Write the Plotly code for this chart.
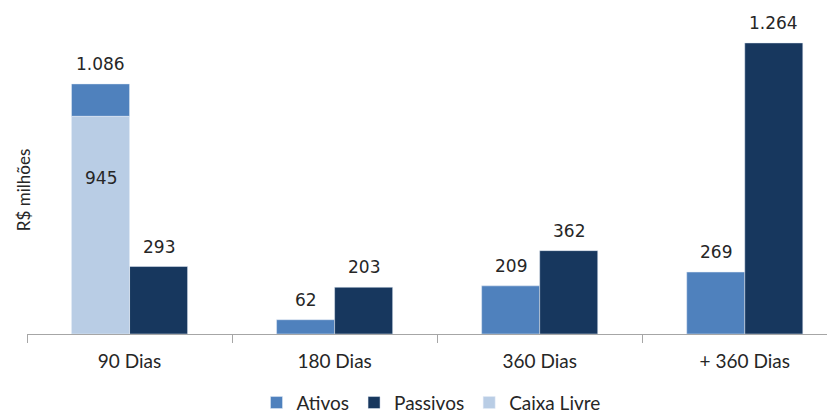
import plotly.graph_objects as go

categories = ["90 Dias", "180 Dias", "360 Dias", "+ 360 Dias"]
ativos_total = [1086, 62, 209, 269]
caixa_livre = [945, 0, 0, 0]
passivos = [293, 203, 362, 1264]

c_ativos = "#4F81BD"
c_passivos = "#17375E"
c_caixa = "#B9CDE5"

def fmt(v):
    return f"{v:,}".replace(",", ".")

ativos_seg = [t - c for t, c in zip(ativos_total, caixa_livre)]

fig = go.Figure()
fig.add_trace(go.Bar(name="Ativos", x=categories, y=ativos_seg, base=caixa_livre,
                     marker_color=c_ativos, offsetgroup="a", legendrank=1))
fig.add_trace(go.Bar(name="Passivos", x=categories, y=passivos,
                     marker_color=c_passivos, offsetgroup="p", legendrank=2))
fig.add_trace(go.Bar(name="Caixa Livre", x=categories, y=[c if c else None for c in caixa_livre],
                     marker_color=c_caixa, offsetgroup="a", legendrank=3))

bargap = 0.434
bw = (1 - bargap) / 2
label_font = dict(family="DejaVu Sans", size=17, color="#262626")
ann = []
for i, (t, c, p) in enumerate(zip(ativos_total, caixa_livre, passivos)):
    ann.append(dict(x=i - bw / 2, y=t, text=fmt(t), showarrow=False, yanchor="bottom",
                    yshift=8, font=label_font))
    ann.append(dict(x=i + bw / 2, y=p, text=fmt(p), showarrow=False, yanchor="bottom",
                    yshift=8, font=label_font))
    if c:
        ann.append(dict(x=i - bw / 2, y=c, text=fmt(c), showarrow=False, yanchor="middle",
                        yshift=-62, font=label_font))

ann.append(dict(xref="paper", yref="paper", x=0, xshift=-4, y=0.444, text="R$ milhões",
                textangle=-90, showarrow=False, xanchor="center", yanchor="middle",
                font=dict(family="Lato", size=17, color="#262626")))

fig.update_layout(
    width=835, height=415,
    margin=dict(l=19, r=8, t=2, b=89, autoexpand=False),
    paper_bgcolor="white", plot_bgcolor="white",
    barmode="group", bargap=bargap, bargroupgap=0,
    font=dict(family="Lato", size=19, color="#262626"),
    annotations=ann,
    legend=dict(orientation="h", x=0.5, xanchor="center", y=-0.212, yanchor="middle",
                font=dict(family="Lato", size=19, color="#262626"), traceorder="normal",
                itemwidth=30),
    showlegend=True,
)
fig.update_xaxes(range=[-0.5, 3.44], showline=True, linecolor="#A6A6A6", linewidth=1,
                 ticks="outside", tickson="boundaries", ticklen=8, tickcolor="#A6A6A6",
                 ticklabelstandoff=10, automargin=False,
                 tickfont=dict(family="Lato", size=19, color="#262626"), showgrid=False)
fig.update_yaxes(range=[0, 1407], showticklabels=False, showgrid=False, zeroline=False,
                 showline=False, automargin=False)

fig.write_html("out.html")
